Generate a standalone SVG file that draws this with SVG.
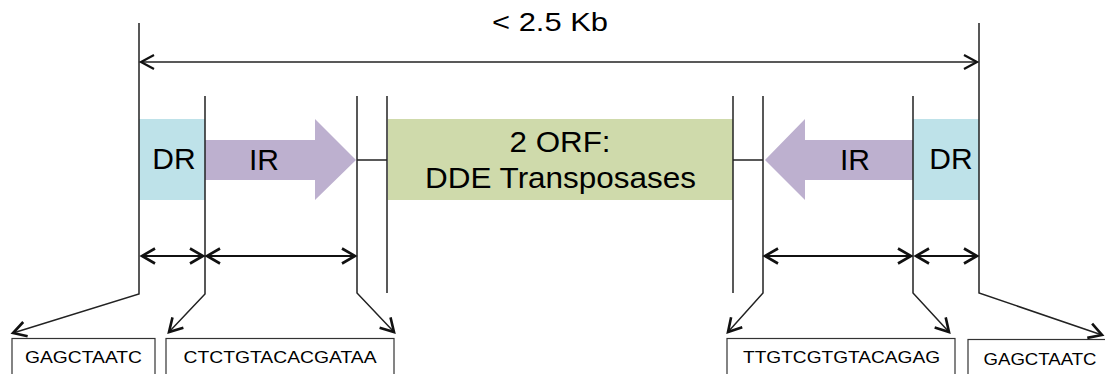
<svg xmlns="http://www.w3.org/2000/svg" width="1105" height="374" viewBox="0 0 1105 374">
  <style>
    .t { font-family: "Liberation Sans", Arial, sans-serif; fill: #000; }
    .big { font-size: 30px; }
    .seq { font-size: 17px; }
    .ln { fill: none; stroke: #222; stroke-width: 1.5; }
    .dim { fill: none; stroke: #111; stroke-width: 2; }
    .box { fill: #fff; stroke: #333; stroke-width: 1.2; }
  </style>
  <defs>
    <marker id="ah" markerUnits="userSpaceOnUse" viewBox="-16 -10 18 20" markerWidth="18" markerHeight="20" refX="0" refY="0" orient="auto-start-reverse" overflow="visible">
      <path d="M-13,-7.5 L0,0 L-13,7.5" fill="none" stroke="#111" stroke-width="2.6" stroke-linejoin="miter"/>
    </marker>
    <marker id="ahs" markerUnits="userSpaceOnUse" viewBox="-16 -10 18 20" markerWidth="18" markerHeight="20" refX="0" refY="0" orient="auto-start-reverse" overflow="visible">
      <path d="M-13,-7 L0,0 L-13,7" fill="none" stroke="#111" stroke-width="2.2"/>
    </marker>
  </defs>

  <g id="length-label">
    <text class="t" x="550" y="31" font-size="25" text-anchor="middle" textLength="116" lengthAdjust="spacingAndGlyphs">&lt; 2.5 Kb</text>
  </g>

  <g id="dr-left">
    <rect x="139" y="119" width="66" height="81" fill="#bee2e9"/>
    <text class="t big" x="174" y="169" text-anchor="middle">DR</text>
  </g>
  <g id="ir-left">
    <polygon points="205,140 315,140 315,119 356,160 315,200 315,180 205,180" fill="#bdb0cf"/>
    <text class="t big" x="264" y="170" text-anchor="middle">IR</text>
  </g>
  <g id="orf">
    <rect x="388" y="119" width="345" height="81" fill="#cfdaab"/>
    <text class="t" x="560" y="152" font-size="29" text-anchor="middle" textLength="101" lengthAdjust="spacingAndGlyphs">2 ORF:</text>
    <text class="t" x="560.5" y="188" font-size="29" text-anchor="middle" textLength="271" lengthAdjust="spacingAndGlyphs">DDE Transposases</text>
  </g>
  <g id="ir-right">
    <polygon points="913,140 805,140 805,119 765,160 805,200 805,180 913,180" fill="#bdb0cf"/>
    <text class="t big" x="855" y="170" text-anchor="middle">IR</text>
  </g>
  <g id="dr-right">
    <rect x="913" y="119" width="66" height="81" fill="#bee2e9"/>
    <text class="t big" x="951" y="169" text-anchor="middle">DR</text>
  </g>

  <g id="seq-1">
    <rect class="box" x="12" y="338.5" width="143" height="40"/>
    <text class="t seq" x="83.5" y="363" text-anchor="middle" textLength="117" lengthAdjust="spacingAndGlyphs">GAGCTAATC</text>
  </g>
  <g id="seq-2">
    <rect class="box" x="166" y="338.5" width="228" height="40"/>
    <text class="t seq" x="280" y="363" text-anchor="middle" textLength="193" lengthAdjust="spacingAndGlyphs">CTCTGTACACGATAA</text>
  </g>
  <g id="seq-3">
    <rect class="box" x="727" y="338.5" width="228" height="40"/>
    <text class="t seq" x="841.5" y="363" text-anchor="middle" textLength="197" lengthAdjust="spacingAndGlyphs">TTGTCGTGTACAGAG</text>
  </g>
  <g id="seq-4">
    <rect class="box" x="968" y="339.5" width="150" height="40"/>
    <text class="t seq" x="1040" y="365" text-anchor="middle" textLength="113" lengthAdjust="spacingAndGlyphs">GAGCTAATC</text>
  </g>

  <g id="connectors">
    <polyline class="ln" points="139,23 139,294 13,333" marker-end="url(#ah)"/>
    <polyline class="ln" points="205,96 205,294 169,332" marker-end="url(#ah)"/>
    <polyline class="ln" points="357,96 357,293 394,332" marker-end="url(#ah)"/>
    <line class="ln" x1="387" y1="96" x2="387" y2="293"/>
    <line class="ln" x1="733" y1="96" x2="733" y2="293"/>
    <polyline class="ln" points="763,96 763,293 728,332" marker-end="url(#ah)"/>
    <polyline class="ln" points="913,96 913,293 949,332" marker-end="url(#ah)"/>
    <polyline class="ln" points="979,23 979,293 1102,335" marker-end="url(#ah)"/>
    <line class="ln" x1="357" y1="160" x2="387" y2="160"/>
    <line class="ln" x1="733" y1="160" x2="763" y2="160"/>
    <line class="ln" x1="141" y1="62" x2="977" y2="62" marker-start="url(#ahs)" marker-end="url(#ahs)"/>
    <line class="dim" x1="142" y1="256" x2="203" y2="256" marker-start="url(#ah)" marker-end="url(#ah)"/>
    <line class="dim" x1="207" y1="256" x2="355" y2="256" marker-start="url(#ah)" marker-end="url(#ah)"/>
    <line class="dim" x1="765" y1="256" x2="911" y2="256" marker-start="url(#ah)" marker-end="url(#ah)"/>
    <line class="dim" x1="916" y1="256" x2="977" y2="256" marker-start="url(#ah)" marker-end="url(#ah)"/>
  </g>
</svg>
